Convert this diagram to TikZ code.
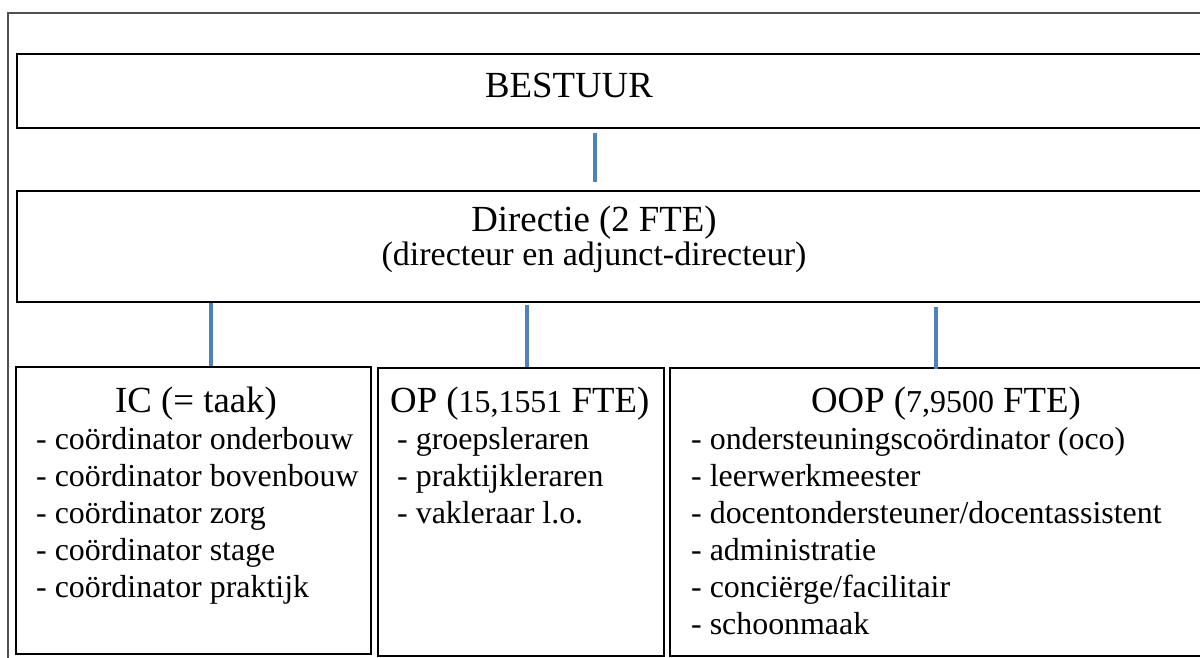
\documentclass[tikz,border=0pt]{standalone}
\usepackage{fontspec}
\setmainfont{Liberation Serif}
\definecolor{linkblue}{HTML}{4F81BD}
\definecolor{framegray}{HTML}{505050}
\newcommand{\headsize}{\fontsize{36.8}{42}\selectfont}
\newcommand{\subsize}{\fontsize{34}{40}\selectfont}
\newcommand{\itemsize}{\fontsize{31.9}{37}\selectfont}
\tikzset{
    box/.style={draw, line width=2pt, inner sep=0pt, anchor=north west},
    head/.style={font=\headsize, inner sep=0pt, anchor=base},
    items/.style={font=\itemsize, align=left, inner sep=0pt, anchor=base west}, % base = last line
    link/.style={draw=linkblue, line width=4.5pt}
}
\begin{document}
\begin{tikzpicture}[x=1pt, y=-1pt]
    \useasboundingbox (0,0) rectangle (1200,658);
    \clip (0,0) rectangle (1200,658);
    % frame round the chart
    \draw[framegray, line width=2pt] (8,670) -- (8,13) -- (1210,13);

    % boxes
    \node[box, minimum width=1220pt, minimum height=74pt] (bestuur) at (16,53) {};
    \node[box, minimum width=1220pt, minimum height=111pt] (directie) at (16,190) {};
    \node[box, minimum width=355pt, minimum height=287pt] (ic) at (15,366) {};
    \node[box, minimum width=286pt, minimum height=288pt] (op) at (377,367) {};
    \node[box, minimum width=560pt, minimum height=288pt] (oop) at (669,367) {};

    % texts
    \node[head] (bestuurtxt) at (569,98) {BESTUUR};
    \node[head] (directietxt) at (594,231) {Directie (2 FTE)};
    \node[head, font=\subsize] (directiesub) at (594,265) {(directeur en adjunct-directeur)};
    \node[head] (ictxt) at (196,412) {IC (= taak)};
    \node[head, anchor=base west] (optxt) at (390,412) {OP ({\itemsize 15,1551} FTE)};
    \node[head] (ooptxt) at (946,412) {OOP ({\itemsize 7,9500} FTE)};

    \node[items] (iclist) at (36,597) {- coördinator onderbouw\\- coördinator bovenbouw\\- coördinator zorg\\- coördinator stage\\- coördinator praktijk};
    \node[items] (oplist) at (397,523) {- groepsleraren\\- praktijkleraren\\- vakleraar l.o.};
    \node[items] (ooplist) at (691,634) {- ondersteuningscoördinator (oco)\\- leerwerkmeester\\- docentondersteuner/docentassistent\\- administratie\\- conciërge/facilitair\\- schoonmaak};

    % connectors
    \coordinate (xtop) at (595,0);
    \coordinate (xic) at (211,0);
    \coordinate (xop) at (527,0);
    \coordinate (xoop) at (936,0);
    \draw[link, shorten <=4pt, shorten >=8pt] (bestuur.south -| xtop) -- (directie.north -| xtop);
    \draw[link] (directie.south -| xic) -- (ic.north -| xic);
    \draw[link, shorten <=2pt] (directie.south -| xop) -- (op.north -| xop);
    \draw[link, shorten <=4pt, shorten >=-2pt] (directie.south -| xoop) -- (oop.north -| xoop);
\end{tikzpicture}
\end{document}
